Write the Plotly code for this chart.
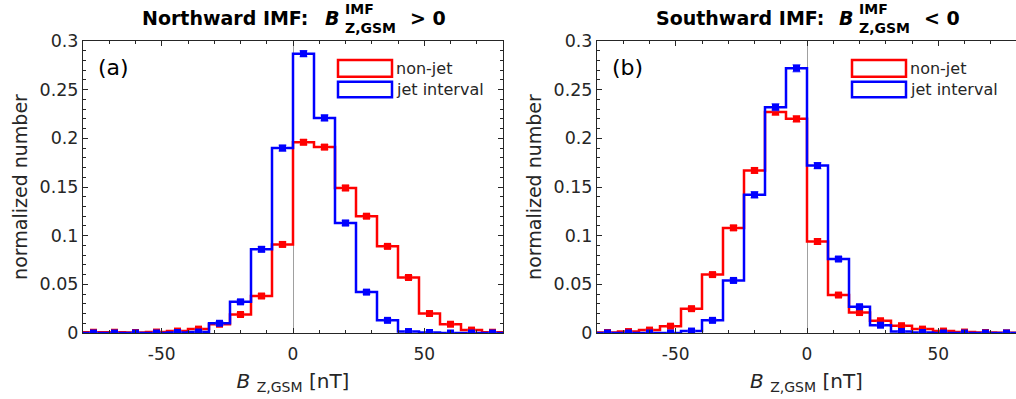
import plotly.graph_objects as go

# ---------------- data ----------------
bin_edges = [-80, -72, -64, -56, -48, -40, -32, -24, -16, -8, 0,
             8, 16, 24, 32, 40, 48, 56, 64, 72, 80]
bin_centers = [-76, -68, -60, -52, -44, -36, -28, -20, -12, -4,
               4, 12, 20, 28, 36, 44, 52, 60, 68, 76]

# Panel (a): northward IMF
north_nonjet = [0.0008, 0.0008, 0.0005, 0.001, 0.002, 0.004, 0.009, 0.019, 0.038, 0.091,
                0.196, 0.191, 0.149, 0.120, 0.089, 0.057, 0.020, 0.009, 0.003, 0.0008]
north_nonjet_err = [0.0005, 0.0005, 0.0005, 0.0005, 0.0008, 0.001, 0.0012, 0.0015, 0.002, 0.0025,
                    0.0025, 0.0025, 0.0025, 0.002, 0.002, 0.0018, 0.0012, 0.001, 0.0008, 0.0005]
north_jet = [0.0, 0.0, 0.0, 0.0, 0.0005, 0.001, 0.010, 0.032, 0.086, 0.190,
             0.287, 0.221, 0.113, 0.042, 0.013, 0.0015, 0.0005, 0.0, 0.0, 0.0]
north_jet_err = [0.0, 0.0, 0.0, 0.0, 0.0005, 0.0008, 0.0015, 0.002, 0.0025, 0.003,
                 0.003, 0.003, 0.0025, 0.002, 0.0015, 0.0008, 0.0005, 0.0, 0.0, 0.0]

# Panel (b): southward IMF
south_nonjet = [0.0005, 0.0015, 0.003, 0.007, 0.025, 0.060, 0.108, 0.167, 0.227, 0.220,
                0.094, 0.039, 0.021, 0.0126, 0.0075, 0.004, 0.002, 0.001, 0.0005, 0.0002]
south_nonjet_err = [0.0005, 0.0007, 0.001, 0.0012, 0.0015, 0.002, 0.0025, 0.0025, 0.003, 0.003,
                    0.0025, 0.0018, 0.0015, 0.0012, 0.001, 0.0008, 0.0006, 0.0005, 0.0004, 0.0003]
south_jet = [0.0, 0.0, 0.0, 0.0, 0.002, 0.013, 0.054, 0.142, 0.232, 0.272,
             0.172, 0.076, 0.027, 0.008, 0.0015, 0.0005, 0.0, 0.0, 0.0, 0.0]
south_jet_err = [0.0, 0.0, 0.0, 0.0, 0.0008, 0.0015, 0.002, 0.003, 0.0035, 0.0035,
                 0.003, 0.002, 0.0015, 0.001, 0.0005, 0.0003, 0.0, 0.0, 0.0, 0.0]

x_tickvals = [-50, 0, 50]
x_ticktext = ["-50", "0", "50"]
y_tickvals = [0, 0.05, 0.1, 0.15, 0.2, 0.25, 0.3]
y_ticktext = ["0", "0.05", "0.1", "0.15", "0.2", "0.25", "0.3"]

series_names = ["non-jet", "jet interval"]
panel_labels = ["(a)", "(b)"]
panel_titles = ["Northward IMF:", "Southward IMF:"]
panel_signs = ["> 0", "< 0"]

RED = "#ff0000"
BLUE = "#0000ff"
RED_ERR = "rgba(255,90,90,0.8)"
BLUE_ERR = "rgba(90,90,255,0.8)"
AX = "#262626"
FONT = "DejaVu Sans"

# ---------------- geometry (pixels) ----------------
W, H = 1016, 399
ML, MR, MT, MB = 83, 0, 41, 66
PW, PH = W - ML - MR, H - MT - MB


def px(x):
    return (x - ML) / PW


def py(y):
    return (H - MB - y) / PH


dom_a = [0, px(503)]
dom_b = [px(597), 1.0]

fig = go.Figure()

panels = [
    (north_nonjet, north_nonjet_err, north_jet, north_jet_err, "x", "y"),
    (south_nonjet, south_nonjet_err, south_jet, south_jet_err, "x2", "y2"),
]

for nj, nje, jt, jte, xa, ya in panels:
    for vals, errs, col, ecol in [(nj, nje, RED, RED_ERR), (jt, jte, BLUE, BLUE_ERR)]:
        fig.add_trace(go.Scatter(
            x=bin_edges, y=vals + [vals[-1]], mode="lines", line_shape="hv",
            line=dict(color=col, width=2.5), xaxis=xa, yaxis=ya, hoverinfo="skip"))
        fig.add_trace(go.Scatter(
            x=bin_centers, y=vals, mode="markers",
            marker=dict(symbol="square", size=7, color=col, line=dict(width=0)),
            error_y=dict(type="data", array=errs, color=ecol, thickness=1.5, width=4),
            xaxis=xa, yaxis=ya))


def xaxis_cfg(domain, rng, anchor):
    return dict(
        domain=domain, range=rng, anchor=anchor,
        tickvals=x_tickvals, ticktext=x_ticktext,
        ticks="inside", ticklen=5, tickcolor=AX, tickwidth=1,
        ticklabelstandoff=6,
        showline=True, linecolor=AX, linewidth=1, mirror="ticks",
        minor=dict(dtick=10, ticks="inside", ticklen=3, tickcolor=AX, tickwidth=1),
        zeroline=True, zerolinecolor="#a0a0a0", zerolinewidth=1,
        showgrid=False, tickfont=dict(size=17, color=AX, family=FONT),
        title=dict(text="<i>B</i> <sub>Z,GSM</sub> [nT]", font=dict(size=20, color=AX, family=FONT),
                   standoff=10),
    )


def yaxis_cfg(anchor, mirror):
    return dict(
        domain=[0, 1], range=[0, 0.3], anchor=anchor,
        tickvals=y_tickvals, ticktext=y_ticktext,
        ticks="inside", ticklen=5, tickcolor=AX, tickwidth=1,
        showline=True, linecolor=AX, linewidth=1, mirror=mirror,
        minor=dict(dtick=0.01, ticks="inside", ticklen=3, tickcolor=AX, tickwidth=1),
        zeroline=False, showgrid=False,
        tickfont=dict(size=17.5, color=AX, family=FONT),
        title=dict(text="normalized number", font=dict(size=19, color=AX, family=FONT), standoff=6),
    )


fig.update_layout(
    width=W, height=H,
    margin=dict(l=ML, r=MR, t=MT, b=MB, pad=0),
    paper_bgcolor="white", plot_bgcolor="white",
    showlegend=False,
    font=dict(family=FONT, color=AX),
    xaxis=xaxis_cfg(dom_a, [-80, 80], "y"),
    yaxis=yaxis_cfg("x", "ticks"),
    xaxis2=xaxis_cfg(dom_b, [-80, 79.62], "y2"),
    yaxis2=yaxis_cfg("x2", False),
)

annotations = []
shapes = []
for i, off in enumerate([0, 514]):
    # title pieces
    annotations.append(dict(x=px(140 + off), y=py(18), xref="paper", yref="paper",
                            xanchor="left", yanchor="middle", showarrow=False,
                            text="<b>" + panel_titles[i] + "</b>",
                            font=dict(size=19, color="black", family=FONT)))
    annotations.append(dict(x=px(323 + off), y=py(18), xref="paper", yref="paper",
                            xanchor="left", yanchor="middle", showarrow=False,
                            text="<b><i>B</i></b>",
                            font=dict(size=19, color="black", family=FONT)))
    annotations.append(dict(x=px(343 + off), y=py(9), xref="paper", yref="paper",
                            xanchor="left", yanchor="middle", showarrow=False,
                            text="<b>IMF</b>",
                            font=dict(size=14, color="black", family=FONT)))
    annotations.append(dict(x=px(343 + off), y=py(28), xref="paper", yref="paper",
                            xanchor="left", yanchor="middle", showarrow=False,
                            text="<b>Z,GSM</b>",
                            font=dict(size=14, color="black", family=FONT)))
    annotations.append(dict(x=px(408 + off), y=py(18), xref="paper", yref="paper",
                            xanchor="left", yanchor="middle", showarrow=False,
                            text="<b>" + panel_signs[i] + "</b>",
                            font=dict(size=19, color="black", family=FONT)))
    # panel label
    annotations.append(dict(x=px(96 + off), y=py(67), xref="paper", yref="paper",
                            xanchor="left", yanchor="middle", showarrow=False,
                            text=panel_labels[i],
                            font=dict(size=22, color="black", family=FONT)))
    # legend
    for j, (col, y0, y1) in enumerate([(RED, 60, 76.7), (BLUE, 81.7, 97.3)]):
        shapes.append(dict(type="rect", xref="paper", yref="paper",
                           x0=px(338 + off), x1=px(392 + off), y0=py(y1), y1=py(y0),
                           line=dict(color=col, width=2.5), fillcolor="rgba(0,0,0,0)"))
        annotations.append(dict(x=px(394 + off), y=py((y0 + y1) / 2), xref="paper", yref="paper",
                                xanchor="left", yanchor="middle", showarrow=False,
                                text=series_names[j],
                                font=dict(size=16, color=AX, family=FONT)))

fig.update_layout(annotations=annotations, shapes=shapes)

fig.write_html("out.html")
